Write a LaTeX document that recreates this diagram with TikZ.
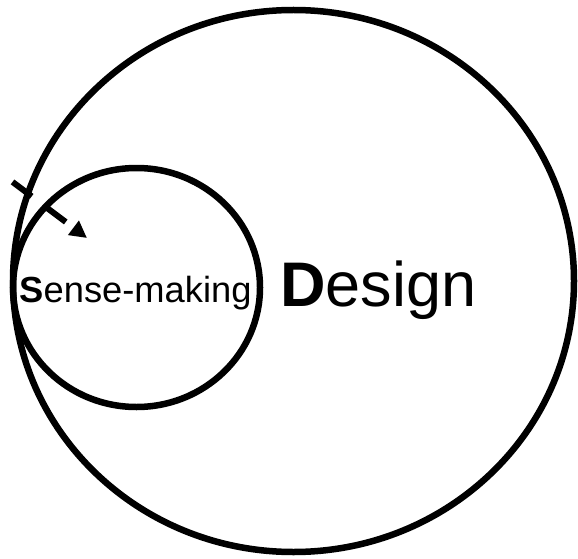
\documentclass[tikz,border=0pt]{standalone}
\usepackage{fontspec}
\setmainfont{Liberation Sans}
\usetikzlibrary{shapes.geometric,arrows.meta}
\begin{document}
\begin{tikzpicture}[x=1pt,y=-1pt,
  ring/.style={ellipse,draw=black,line width=6.5pt,inner sep=0pt,outer sep=0pt},
  lbl/.style={anchor=base west,inner sep=0pt,outer sep=0pt,text=black},
  flow/.style={line width=6pt,dash pattern=on 24pt off 18.6pt,-{Triangle[length=17pt,width=17pt]}}]
\useasboundingbox (0,0) rectangle (578,559);
\node[ring,minimum width=561pt,minimum height=542pt] (design) at (293.5,281) {};
\node[ring,minimum width=247pt,minimum height=239pt] (sense) at (136.5,287.5) {};
\node[lbl,font=\fontsize{36.3}{40}\selectfont] (senselbl) at (19.5,302.5) {\textbf{S}ense-making};
\node[lbl,font=\fontsize{63}{70}\selectfont] (designlbl) at (280,306) {\textbf{D}esign};
\coordinate (from) at (-21.5,156.3);
\coordinate (to) at (87,238);
\draw[flow] (from) -- (to);
\end{tikzpicture}
\end{document}
